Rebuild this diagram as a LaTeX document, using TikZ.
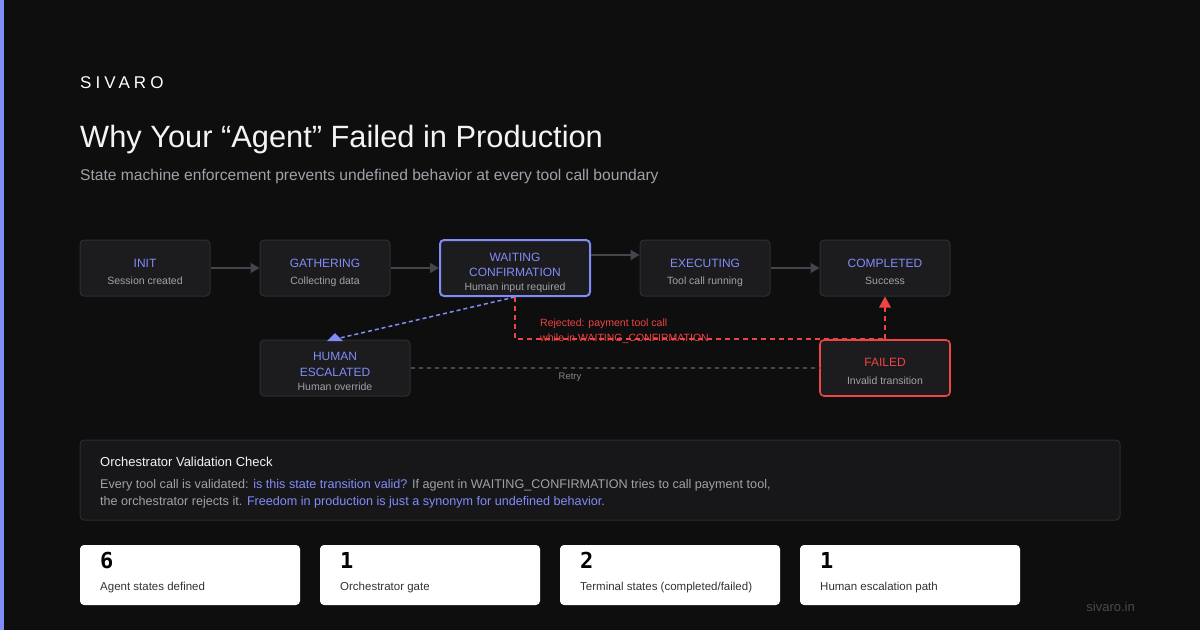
\documentclass[tikz,border=0pt]{standalone}
\usepackage{fontspec}
\setmainfont{Liberation Sans}
\newfontfamily\monofnt{DejaVu Sans Mono}
\newfontfamily\logofnt{Liberation Sans}[LetterSpace=24]
\usetikzlibrary{arrows.meta}
\definecolor{bg}{HTML}{0E0E0F}
\definecolor{accent}{HTML}{818CF8}
\definecolor{nodefill}{HTML}{1C1C1F}
\definecolor{nodeborder}{HTML}{2E2E33}
\definecolor{subgray}{HTML}{A1A1AA}
\definecolor{retryc}{HTML}{85858C}
\definecolor{linegray}{HTML}{45454B}
\definecolor{redc}{HTML}{EF4444}
\definecolor{valfill}{HTML}{17171A}
\definecolor{valborder}{HTML}{2C2C30}
\definecolor{cardtext}{HTML}{333333}
\definecolor{foot}{HTML}{4A4A4E}
\definecolor{titlec}{HTML}{F4F4F5}
\tikzset{
  fs/.style={font=\fontsize{#1}{#1}\selectfont},
  statebox/.style={draw=nodeborder, fill=nodefill, rounded corners=4pt, line width=1pt,
    minimum width=130pt, minimum height=56pt, inner sep=0pt},
  sttitle/.style={anchor=base, text=accent, fs=12, inner sep=0pt},
  stsub/.style={anchor=base, text=subgray, fs=10.5, inner sep=0pt},
  arr/.style={draw=linegray, line width=1.5pt, -{Triangle[length=9pt,width=10pt]}},
  bluedash/.style={draw=accent, line width=1.5pt, dash pattern=on 4pt off 3pt},
  reddash/.style={draw=redc, line width=2pt, dash pattern=on 5pt off 4pt},
  graydash/.style={draw=linegray, line width=1.3pt, dash pattern=on 4pt off 4pt},
  card/.style={fill=white, rounded corners=4pt, minimum width=220pt, minimum height=60pt, inner sep=0pt},
  cardnum/.style={anchor=base west, inner sep=0pt, text=black, font=\fontsize{22}{22}\monofnt\bfseries},
  cardlab/.style={anchor=base west, inner sep=0pt, text=cardtext, fs=11.5},
  txt/.style={anchor=base west, inner sep=0pt},
}
\begin{document}
\begin{tikzpicture}[x=1pt,y=-1pt]
\fill[bg] (0,0) rectangle (1200,630);
\useasboundingbox (0,0) rectangle (1200,630);
\fill[accent] (0,0) rectangle (4,630);

% header
\node[txt, text=white, font=\fontsize{17}{17}\logofnt] (logo) at (80,88) {SIVARO};
\node[txt, text=titlec, fs=30.8] (title) at (80,147) {Why Your “Agent” Failed in Production};
\node[txt, text=subgray, fs=15.6] (subtitle) at (80,180) {State machine enforcement prevents undefined behavior at every tool call boundary};

% state boxes
\node[statebox] (init) at (145,268) {};
\node[statebox] (gath) at (325,268) {};
\node[statebox, draw=accent, line width=2pt, minimum width=150pt] (wait) at (515,268) {};
\node[statebox] (exec) at (705,268) {};
\node[statebox] (comp) at (885,268) {};
\node[statebox, minimum width=150pt] (human) at (335,368) {};
\node[statebox, draw=redc, line width=1.6pt] (failed) at (885,368) {};

\node[sttitle] (init-t) at (145,267) {INIT};
\node[stsub] (init-s) at (145,284) {Session created};
\node[sttitle] (gath-t) at (325,267) {GATHERING};
\node[stsub] (gath-s) at (325,284) {Collecting data};
\node[sttitle] (wait-t1) at (515,261) {WAITING};
\node[sttitle] (wait-t2) at (515,276) {CONFIRMATION};
\node[stsub] (wait-s) at (515,290) {Human input required};
\node[sttitle] (exec-t) at (705,267) {EXECUTING};
\node[stsub] (exec-s) at (705,284) {Tool call running};
\node[sttitle] (comp-t) at (885,267) {COMPLETED};
\node[stsub] (comp-s) at (885,284) {Success};
\node[sttitle] (human-t1) at (335,360) {HUMAN};
\node[sttitle] (human-t2) at (335,376) {ESCALATED};
\node[stsub] (human-s) at (335,390) {Human override};
\node[sttitle, text=redc] (failed-t) at (885,366) {FAILED};
\node[stsub] (failed-s) at (885,384) {Invalid transition};

% main arrows
\draw[arr] (init.east) -- (gath.west);
\draw[arr] (gath.east) -- (wait.west);
\draw[arr] ([yshift=13pt]wait.east) -- ([yshift=13pt]exec.west);
\draw[arr] (exec.east) -- (comp.west);

% escalation
\coordinate (htip) at (335,333);
\draw[bluedash] (wait.south) -- (340,338);
\fill[accent] (htip) -- (343,341) -- (327,341) -- cycle;

% retry
\draw[graydash] (human.east) -- (failed.west);
\node[inner sep=0pt, text=retryc, fs=9.5] (retry) at (570,377) {Retry};

% rejection path
\draw[reddash] (wait.south) |- (failed.north);
\draw[reddash] (failed.north) -- ([yshift=-10pt]comp.south);
\fill[redc] (comp.south) -- ++(6,11) -- ++(-12,0) -- cycle;
\node[txt, text=redc, fs=10.5] (rej1) at (540,326) {Rejected: payment tool call};
\node[txt, text=redc, fs=10.5] (rej2) at (540,341) {while in WAITING\_CONFIRMATION};

% validation box
\node[draw=valborder, fill=valfill, line width=1pt, rounded corners=4pt, minimum width=1040pt, minimum height=80pt, inner sep=0pt] (val) at (600,480) {};
\node[txt, text=titlec, fs=13] (val-t) at (100,466) {Orchestrator Validation Check};
\node[txt, text=subgray, fs=12.6] (val-1) at (100,488) {Every tool call is validated: \textcolor{accent}{is this state transition valid?} If agent in WAITING\_CONFIRMATION tries to call payment tool,};
\node[txt, text=subgray, fs=12.6] (val-2) at (100,505) {the orchestrator rejects it. \textcolor{accent}{Freedom in production is just a synonym for undefined behavior.}};

% cards
\node[card] (c1) at (190,575) {};
\node[card] (c2) at (430,575) {};
\node[card] (c3) at (670,575) {};
\node[card] (c4) at (910,575) {};
\node[cardnum] (c1-n) at (100,568) {6};
\node[cardlab] (c1-l) at (100,590) {Agent states defined};
\node[cardnum] (c2-n) at (340,568) {1};
\node[cardlab] (c2-l) at (340,590) {Orchestrator gate};
\node[cardnum] (c3-n) at (580,568) {2};
\node[cardlab] (c3-l) at (580,590) {Terminal states (completed/failed)};
\node[cardnum] (c4-n) at (820,568) {1};
\node[cardlab] (c4-l) at (820,590) {Human escalation path};

\node[anchor=base east, inner sep=0pt, text=foot, fs=13] (footer) at (1135,611) {sivaro.in};
\end{tikzpicture}
\end{document}
